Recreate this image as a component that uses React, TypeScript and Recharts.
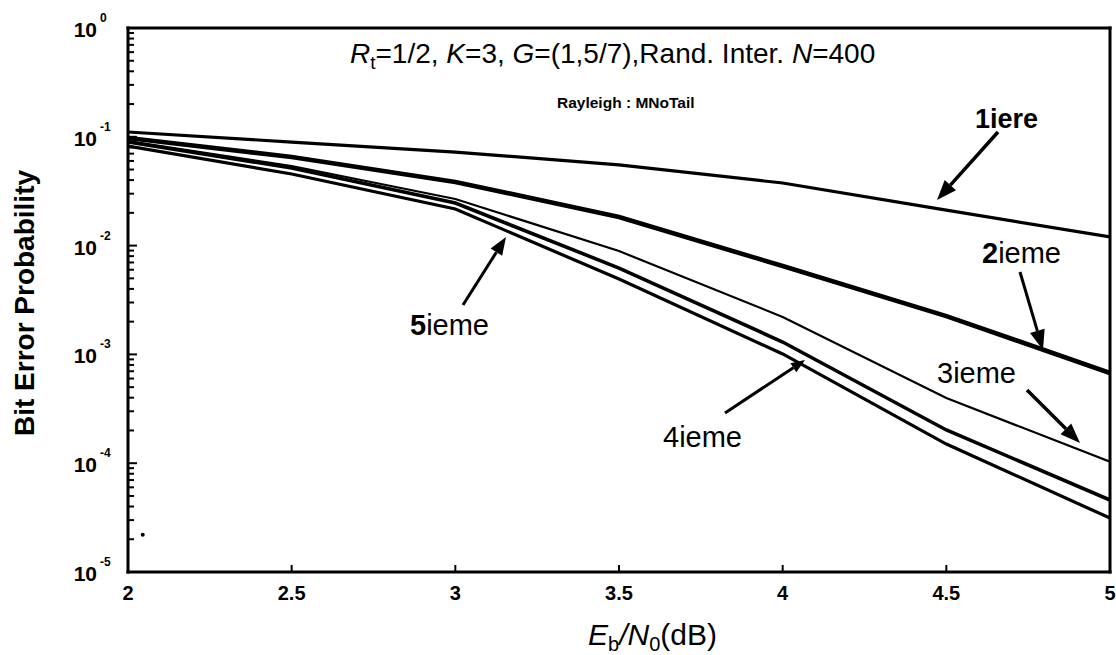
import React from 'react';
import { LineChart, Line, XAxis, YAxis, ReferenceDot } from 'recharts';

// Eb/N0 (dB)
const ebn0 = [2, 2.5, 3, 3.5, 4, 4.5, 5];
// Bit error probability per decoding iteration
const iter1 = [0.1107, 0.0895, 0.0724, 0.0551, 0.0376, 0.0212, 0.012];
const iter2 = [0.0975, 0.0652, 0.0385, 0.0183, 0.00649, 0.00225, 0.000675];
const iter3 = [0.0915, 0.0539, 0.0268, 0.00891, 0.00221, 0.000397, 0.000103];
const iter4 = [0.0896, 0.0517, 0.0246, 0.00622, 0.0013, 0.000202, 0.0000459];
const iter5 = [0.0822, 0.0455, 0.0217, 0.00493, 0.00101, 0.00015, 0.0000313];
// stray speck in the original scan
const speck = [2.045, 0.000022];

const xTicks = [2, 2.5, 3, 3.5, 4, 4.5, 5];
const yTicks: number[] = [];
for (let e = -5; e <= 0; e++) {
  yTicks.push(Math.pow(10, e));
  if (e < 0) for (let m = 2; m <= 9; m++) yTicks.push(m * Math.pow(10, e));
}

const data = ebn0.map((x, i) => ({
  x,
  it1: iter1[i],
  it2: iter2[i],
  it3: iter3[i],
  it4: iter4[i],
  it5: iter5[i],
}));

const W = 1116;
const H = 655;
const M_TOP = 28;
const M_RIGHT = 6;
const Y_AXIS_W = 128;
const X_AXIS_H = 83;
const PLOT_L = Y_AXIS_W;
const PLOT_T = M_TOP;
const PLOT_R = W - M_RIGHT;
const PLOT_B = H - X_AXIS_H;
const FRAME = 3;

const FONT = '"Liberation Sans", Arial, sans-serif';

const isMajor = (v: number) => {
  const l = Math.log10(v);
  return Math.abs(l - Math.round(l)) < 1e-9;
};

const BottomTick = (props: any) => {
  const { x, y, payload } = props;
  const v = payload.value;
  return (
    <g>
      {v !== 2 && v !== 5 && <line x1={x} y1={y} x2={x} y2={y - 7} stroke="#000" strokeWidth={2} />}
      <text x={x} y={y + 28} textAnchor="middle" fontFamily={FONT} fontWeight="bold" fontSize={20} fill="#000">
        {String(v)}
      </text>
    </g>
  );
};

const TopTick = (props: any) => {
  const { x, y, payload } = props;
  const v = payload.value;
  if (v === 2 || v === 5) return <g />;
  return <line x1={x} y1={y} x2={x} y2={y + 7} stroke="#000" strokeWidth={2} />;
};

const LeftTick = (props: any) => {
  const { x, y, payload } = props;
  const v = payload.value;
  const major = isMajor(v);
  const e = Math.round(Math.log10(v));
  return (
    <g>
      <line x1={x} y1={y} x2={x + (major ? 9 : 6)} y2={y} stroke="#000" strokeWidth={2} />
      {major && (
        <g>
          <text x={x - 31} y={y + 9} textAnchor="end" fontFamily={FONT} fontWeight="bold" fontSize={21} fill="#000">
            10
          </text>
          <text x={x - 28} y={y - 6} textAnchor="start" fontFamily={FONT} fontWeight="bold" fontSize={12} fill="#000">
            {String(e)}
          </text>
        </g>
      )}
    </g>
  );
};

const RightTick = (props: any) => {
  const { x, y, payload } = props;
  const v = payload.value;
  const major = isMajor(v);
  return <line x1={x} y1={y} x2={x - (major ? 9 : 6)} y2={y} stroke="#000" strokeWidth={2} />;
};

const Arrow = ({ x1, y1, x2, y2, w = 3, head = 16 }: any) => {
  const dx = x2 - x1;
  const dy = y2 - y1;
  const len = Math.sqrt(dx * dx + dy * dy);
  const ux = dx / len;
  const uy = dy / len;
  const bx = x2 - ux * head;
  const by = y2 - uy * head;
  const hw = head * 0.38;
  const p = `${x2},${y2} ${bx - uy * hw},${by + ux * hw} ${bx + uy * hw},${by - ux * hw}`;
  return (
    <g>
      <line x1={x1} y1={y1} x2={bx} y2={by} stroke="#000" strokeWidth={w} />
      <polygon points={p} fill="#000" />
    </g>
  );
};

export default function App() {
  const h = FRAME / 2;
  return (
    <div style={{ position: 'absolute', left: 0, top: 0, width: W, height: H, background: '#fff' }}>
      <LineChart
        width={W}
        height={H}
        data={data}
        margin={{ top: M_TOP, right: M_RIGHT, bottom: 0, left: 0 }}
      >
        <XAxis
          dataKey="x"
          type="number"
          domain={[2, 5]}
          ticks={xTicks}
          interval={0}
          height={X_AXIS_H}
          tickSize={0}
          tickMargin={0}
          tickLine={false}
          axisLine={false}
          tick={<BottomTick />}
          allowDataOverflow
        />
        <XAxis
          xAxisId="top"
          orientation="top"
          dataKey="x"
          type="number"
          domain={[2, 5]}
          ticks={xTicks}
          interval={0}
          height={0}
          tickSize={0}
          tickMargin={0}
          tickLine={false}
          axisLine={false}
          tick={<TopTick />}
          allowDataOverflow
        />
        <YAxis
          type="number"
          scale="log"
          domain={[1e-5, 1]}
          ticks={yTicks}
          interval={0}
          width={Y_AXIS_W}
          tickSize={0}
          tickMargin={0}
          tickLine={false}
          axisLine={false}
          tick={<LeftTick />}
          allowDataOverflow
        />
        <YAxis
          yAxisId="right"
          orientation="right"
          type="number"
          scale="log"
          domain={[1e-5, 1]}
          ticks={yTicks}
          interval={0}
          width={0}
          tickSize={0}
          tickMargin={0}
          tickLine={false}
          axisLine={false}
          tick={<RightTick />}
          allowDataOverflow
        />
        <Line dataKey="it1" type="linear" stroke="#000" strokeWidth={3.2} dot={false} isAnimationActive={false} />
        <Line dataKey="it2" type="linear" stroke="#000" strokeWidth={4.6} dot={false} isAnimationActive={false} />
        <Line dataKey="it3" type="linear" stroke="#000" strokeWidth={2.2} dot={false} isAnimationActive={false} />
        <Line dataKey="it4" type="linear" stroke="#000" strokeWidth={3.6} dot={false} isAnimationActive={false} />
        <Line dataKey="it5" type="linear" stroke="#000" strokeWidth={3.2} dot={false} isAnimationActive={false} />
        <ReferenceDot x={speck[0]} y={speck[1]} r={2} fill="#000" stroke="none" />
      </LineChart>
      <svg
        width={W}
        height={H}
        style={{ position: 'absolute', left: 0, top: 0, pointerEvents: 'none' }}
      >
        <rect x={PLOT_L - h} y={PLOT_T - h} width={PLOT_R - PLOT_L + FRAME} height={FRAME} fill="#000" />
        <rect x={PLOT_L - h} y={PLOT_B - h} width={PLOT_R - PLOT_L + FRAME} height={FRAME} fill="#000" />
        <rect x={PLOT_L - h} y={PLOT_T - h} width={FRAME} height={PLOT_B - PLOT_T + FRAME} fill="#000" />
        <rect x={PLOT_R - h} y={PLOT_T - h} width={FRAME} height={PLOT_B - PLOT_T + FRAME} fill="#000" />
        <g fontFamily={FONT} fill="#000">
          <text x={350} y={63} fontSize={28}>
            <tspan fontStyle="italic">R</tspan>
            <tspan fontSize={19} dy={6}>t</tspan>
            <tspan dy={-6}>=1/2, </tspan>
            <tspan fontStyle="italic">K</tspan>
            <tspan>=3, </tspan>
            <tspan fontStyle="italic">G</tspan>
            <tspan>=(1,5/7),Rand. Inter. </tspan>
            <tspan fontStyle="italic">N</tspan>
            <tspan>=400</tspan>
          </text>
          <text x={557} y={108} fontSize={15.5} fontWeight="bold">Rayleigh :  MNoTail</text>

          <text x={975} y={128} fontSize={27} fontWeight="bold">1iere</text>
          <text x={982} y={263} fontSize={29}>
            <tspan fontWeight="bold">2</tspan>
            <tspan>ieme</tspan>
          </text>
          <text x={937} y={383} fontSize={29}>3ieme</text>
          <text x={663} y={447} fontSize={29}>4ieme</text>
          <text x={410} y={335} fontSize={29}>
            <tspan fontWeight="bold">5</tspan>
            <tspan>ieme</tspan>
          </text>

          <text
            x={27}
            y={303}
            fontSize={28}
            fontWeight="bold"
            textAnchor="middle"
            dominantBaseline="middle"
            transform="rotate(-90 27 303)"
          >
            Bit Error Probability
          </text>

          <text x={588} y={645} fontSize={30}>
            <tspan fontStyle="italic">E</tspan>
            <tspan fontSize={20} dy={6}>b</tspan>
            <tspan dy={-6} fontStyle="italic">/N</tspan>
            <tspan fontSize={20} dy={6}>0</tspan>
            <tspan dy={-6}>(dB)</tspan>
          </text>
        </g>
        <Arrow x1={998} y1={132} x2={937} y2={200} w={3.5} head={20} />
        <Arrow x1={1020} y1={272} x2={1043} y2={350} w={3} head={20} />
        <Arrow x1={1027} y1={390} x2={1080} y2={443} w={3.5} head={20} />
        <Arrow x1={725} y1={413} x2={805} y2={360} w={3} head={14} />
        <Arrow x1={463} y1={305} x2={506} y2={237} w={3} head={18} />
      </svg>
    </div>
  );
}
